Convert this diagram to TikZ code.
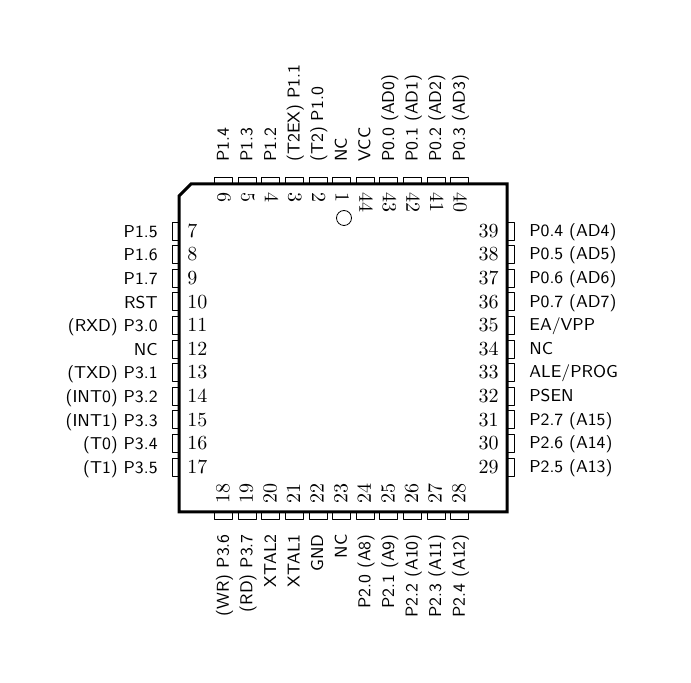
\documentclass[tikz,border=0pt]{standalone}
\tikzset{
pinbox/.style={draw,line width=0.4pt,fill=white},
pinname/.style={font=\fontsize{8.6}{10}\selectfont\sffamily,inner sep=0pt},
pinnum/.style={font=\normalsize,inner sep=0pt},
}
\begin{document}
\begin{tikzpicture}[line cap=round,line join=round,x=0.5pt,y=-0.5pt]
\useasboundingbox (0,0) rectangle (691,683);
\path
(179,196) coordinate (A)
(191,184) coordinate (B)
(507,184) coordinate (C)
(507,512) coordinate (D)
(179,512) coordinate (E)
(344,218) coordinate (O)
;
% top row
\foreach \i/\num/\lab in {0/6/P1.4,1/5/P1.3,2/4/P1.2,3/3/(T2EX) P1.1,4/2/(T2) P1.0,5/1/NC,6/44/VCC,7/43/P0.0 (AD0),8/42/P0.1 (AD1),9/41/P0.2 (AD2),10/40/P0.3 (AD3)}{
\draw[pinbox] (223.5+23.6*\i-9,177) rectangle (223.5+23.6*\i+9,184);
\node[pinnum,rotate=-90,anchor=mid west] (n\num) at (222+23.6*\i,192) {\num};
\node[pinname,rotate=90,anchor=mid west] (t\num) at (224.5+23.6*\i,162) {\lab};
}
% left row
\foreach \i/\num/\lab in {0/7/P1.5,1/8/P1.6,2/9/P1.7,3/10/RST,4/11/(RXD) P3.0,5/12/NC,6/13/(TXD) P3.1,7/14/(INT0) P3.2,8/15/(INT1) P3.3,9/16/(T0) P3.4,10/17/(T1) P3.5}{
\draw[pinbox] (172,231+23.6*\i-9) rectangle (179,231+23.6*\i+9);
\node[pinnum,anchor=mid west] (n\num) at (187,233+23.6*\i) {\num};
\node[pinname,anchor=mid east] (t\num) at (158,233+23.6*\i) {\lab};
}
% bottom row
\foreach \i/\num/\lab in {0/18/(WR) P3.6,1/19/(RD) P3.7,2/20/XTAL2,3/21/XTAL1,4/22/GND,5/23/NC,6/24/P2.0 (A8),7/25/P2.1 (A9),8/26/P2.2 (A10),9/27/P2.3 (A11),10/28/P2.4 (A12)}{
\draw[pinbox] (223.5+23.6*\i-9,512) rectangle (223.5+23.6*\i+9,519);
\node[pinnum,rotate=90,anchor=mid west] (n\num) at (225+23.6*\i,504) {\num};
\node[pinname,rotate=90,anchor=mid east] (t\num) at (224.5+23.6*\i,534) {\lab};
}
% right row
\foreach \i/\num/\lab in {0/39/P0.4 (AD4),1/38/P0.5 (AD5),2/37/P0.6 (AD6),3/36/P0.7 (AD7),4/35/{EA/VPP},5/34/NC,6/33/{ALE/PROG},7/32/PSEN,8/31/P2.7 (A15),9/30/P2.6 (A14),10/29/P2.5 (A13)}{
\draw[pinbox] (507,231+23.6*\i-9) rectangle (514,231+23.6*\i+9);
\node[pinnum,anchor=mid east] (n\num) at (499,233+23.6*\i) {\num};
\node[pinname,anchor=mid west] (t\num) at (529,232+23.6*\i) {\lab};
}
\draw[line width=1.5pt,line cap=butt,line join=miter] (A)--(B)--(C)--(D)--(E)--cycle;
\draw[line width=0.4pt] (O) circle (7.5);
\end{tikzpicture}
\end{document}
